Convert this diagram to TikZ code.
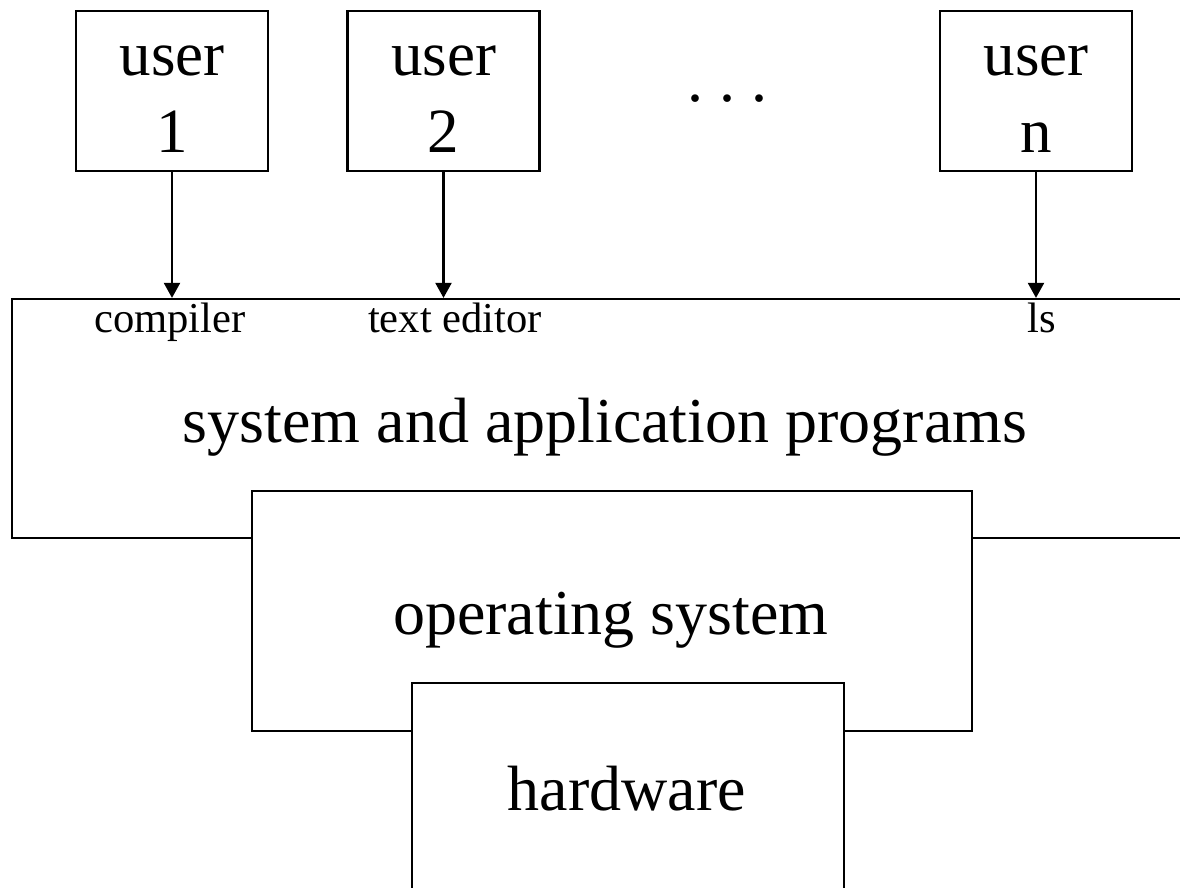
\documentclass[tikz,border=0pt]{standalone}
\usepackage{fontspec}
\setmainfont{Liberation Serif}
\usetikzlibrary{arrows.meta, positioning}
\tikzset{
  userbox/.style={rectangle, draw, line width=1.1pt, minimum width=96pt,
    minimum height=80pt, inner sep=0pt},
  usertext/.style={anchor=base, inner sep=0pt,
    font=\fontsize{31.5}{38.5}\selectfont},
  layerbox/.style={rectangle, draw, fill=white, line width=1.1pt, inner sep=0pt},
  bigtext/.style={font=\fontsize{32}{38.5}\selectfont, anchor=base, inner sep=0pt},
  smalltext/.style={font=\fontsize{21.3}{25}\selectfont, anchor=base, inner sep=0pt},
  arrow/.style={-{Triangle[length=7.5pt, width=8pt]}, line width=1.1pt}
}
\newcommand{\usertwo}[1]{\begin{tabular}[b]{@{}c@{}}user\\#1\end{tabular}}
\begin{document}
\begin{tikzpicture}[x=0.5pt, y=-0.5pt]
  \useasboundingbox (0,0) rectangle (1180,888);
  \clip (0,0) rectangle (1180,888);

  % Users on top
  \node[userbox] (u1) at (172,91) {};
  \node[userbox] (u2) at (443.5,91) {};
  \node[userbox] (un) at (1036,91) {};
  \node[usertext] (u1_txt) at (172,153) {\usertwo{1}};
  \node[usertext] (u2_txt) at (443.5,153) {\usertwo{2}};
  \node[usertext] (un_txt) at (1036,153) {\usertwo{n}};
  \node[bigtext] (dots) at (727,102) {.\kern8pt.\kern8pt.};

  % Layers, drawn from top to bottom so each one covers the last
  \node[layerbox, minimum width=594pt, minimum height=119.5pt] (apps) at (606,418.5) {};
  \node[layerbox, minimum width=360pt, minimum height=120pt] (os) at (612,611) {};
  \node[layerbox, minimum width=216pt, minimum height=105.5pt] (hw) at (628,788.5) {};

  % Layer texts
  \node[bigtext] (apps_txt) at (605,442) {system and application programs};
  \node[bigtext] (os_txt) at (611,634) {operating system};
  \node[bigtext] (hw_txt) at (627,810) {hardware};

  % Programs used by each user
  \node[smalltext] (compiler) at (170,333) {compiler};
  \node[smalltext] (editor) at (455,333) {text editor};
  \node[smalltext] (ls) at (1042,333) {ls};

  % Connections
  \draw[arrow] (u1.south) -- (u1.south |- apps.north);
  \draw[arrow] (u2.south) -- (u2.south |- apps.north);
  \draw[arrow] (un.south) -- (un.south |- apps.north);
\end{tikzpicture}
\end{document}
